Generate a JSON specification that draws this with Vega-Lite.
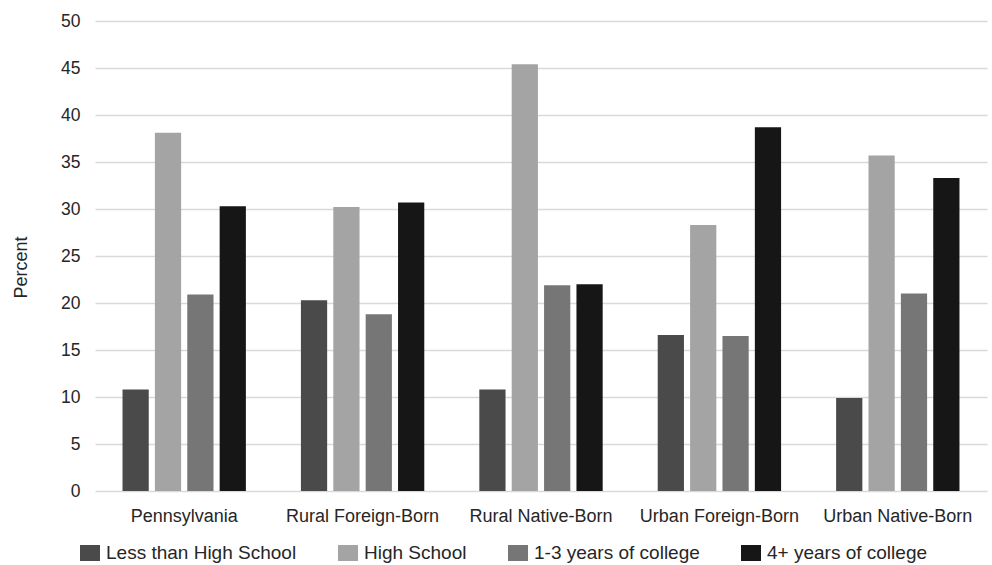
{
  "$schema": "https://vega.github.io/schema/vega-lite/v6.json",
  "autosize": {"type": "none"},
  "padding": {"left": 95, "top": 21, "right": 5, "bottom": 74},
  "width": 892,
  "height": 470,
  "background": "white",
  "data": {
    "values": [
      {"region": "Pennsylvania", "education": "Less than High School", "percent": 10.8},
      {"region": "Pennsylvania", "education": "High School", "percent": 38.1},
      {"region": "Pennsylvania", "education": "1-3 years of college", "percent": 20.9},
      {"region": "Pennsylvania", "education": "4+ years of college", "percent": 30.3},
      {"region": "Rural Foreign-Born", "education": "Less than High School", "percent": 20.3},
      {"region": "Rural Foreign-Born", "education": "High School", "percent": 30.2},
      {"region": "Rural Foreign-Born", "education": "1-3 years of college", "percent": 18.8},
      {"region": "Rural Foreign-Born", "education": "4+ years of college", "percent": 30.7},
      {"region": "Rural Native-Born", "education": "Less than High School", "percent": 10.8},
      {"region": "Rural Native-Born", "education": "High School", "percent": 45.4},
      {"region": "Rural Native-Born", "education": "1-3 years of college", "percent": 21.9},
      {"region": "Rural Native-Born", "education": "4+ years of college", "percent": 22.0},
      {"region": "Urban Foreign-Born", "education": "Less than High School", "percent": 16.6},
      {"region": "Urban Foreign-Born", "education": "High School", "percent": 28.3},
      {"region": "Urban Foreign-Born", "education": "1-3 years of college", "percent": 16.5},
      {"region": "Urban Foreign-Born", "education": "4+ years of college", "percent": 38.7},
      {"region": "Urban Native-Born", "education": "Less than High School", "percent": 9.9},
      {"region": "Urban Native-Born", "education": "High School", "percent": 35.7},
      {"region": "Urban Native-Born", "education": "1-3 years of college", "percent": 21.0},
      {"region": "Urban Native-Born", "education": "4+ years of college", "percent": 33.3}
    ]
  },
  "mark": {"type": "bar"},
  "encoding": {
    "x": {
      "field": "region",
      "type": "nominal",
      "sort": null,
      "scale": {"paddingInner": 0, "paddingOuter": 0},
      "axis": {
        "title": null,
        "labelAngle": 0,
        "ticks": false,
        "domain": false,
        "labelPadding": 16,
        "labelFontSize": 18,
        "labelFont": "Liberation Sans",
        "labelColor": "#262626"
      }
    },
    "xOffset": {
      "field": "education",
      "type": "nominal",
      "sort": ["Less than High School", "High School", "1-3 years of college", "4+ years of college"],
      "scale": {"paddingInner": 0.19, "paddingOuter": 0.85}
    },
    "y": {
      "field": "percent",
      "type": "quantitative",
      "scale": {"domain": [0, 50], "nice": false},
      "axis": {
        "title": "Percent",
        "values": [0, 5, 10, 15, 20, 25, 30, 35, 40, 45, 50],
        "ticks": false,
        "domain": false,
        "grid": true,
        "gridColor": "#d9d9d9",
        "gridWidth": 1.5,
        "labelPadding": 15,
        "labelFontSize": 17.5,
        "labelFont": "Liberation Sans",
        "labelColor": "#262626",
        "titleFont": "Liberation Sans",
        "titleFontSize": 18,
        "titleFontWeight": "normal",
        "titleColor": "#262626",
        "titleAngle": -90,
        "titleX": -74,
        "titleY": 246,
        "titleAlign": "center",
        "titleBaseline": "middle"
      }
    },
    "color": {
      "field": "education",
      "type": "nominal",
      "scale": {
        "domain": ["Less than High School", "High School", "1-3 years of college", "4+ years of college"],
        "range": ["#4a4a4a", "#a4a4a4", "#767676", "#161616"]
      },
      "legend": {
        "title": null,
        "orient": "none",
        "direction": "horizontal",
        "legendX": -15,
        "legendY": 522,
        "padding": 0,
        "columnPadding": 41,
        "labelOffset": 6,
        "symbolType": "M-1,-0.8H1V0.8H-1Z",
        "symbolSize": 400,
        "symbolStrokeWidth": 0,
        "labelFontSize": 19,
        "labelFont": "Liberation Sans",
        "labelColor": "#262626",
        "labelLimit": 400
      }
    }
  },
  "config": {
    "view": {"stroke": null}
  }
}
